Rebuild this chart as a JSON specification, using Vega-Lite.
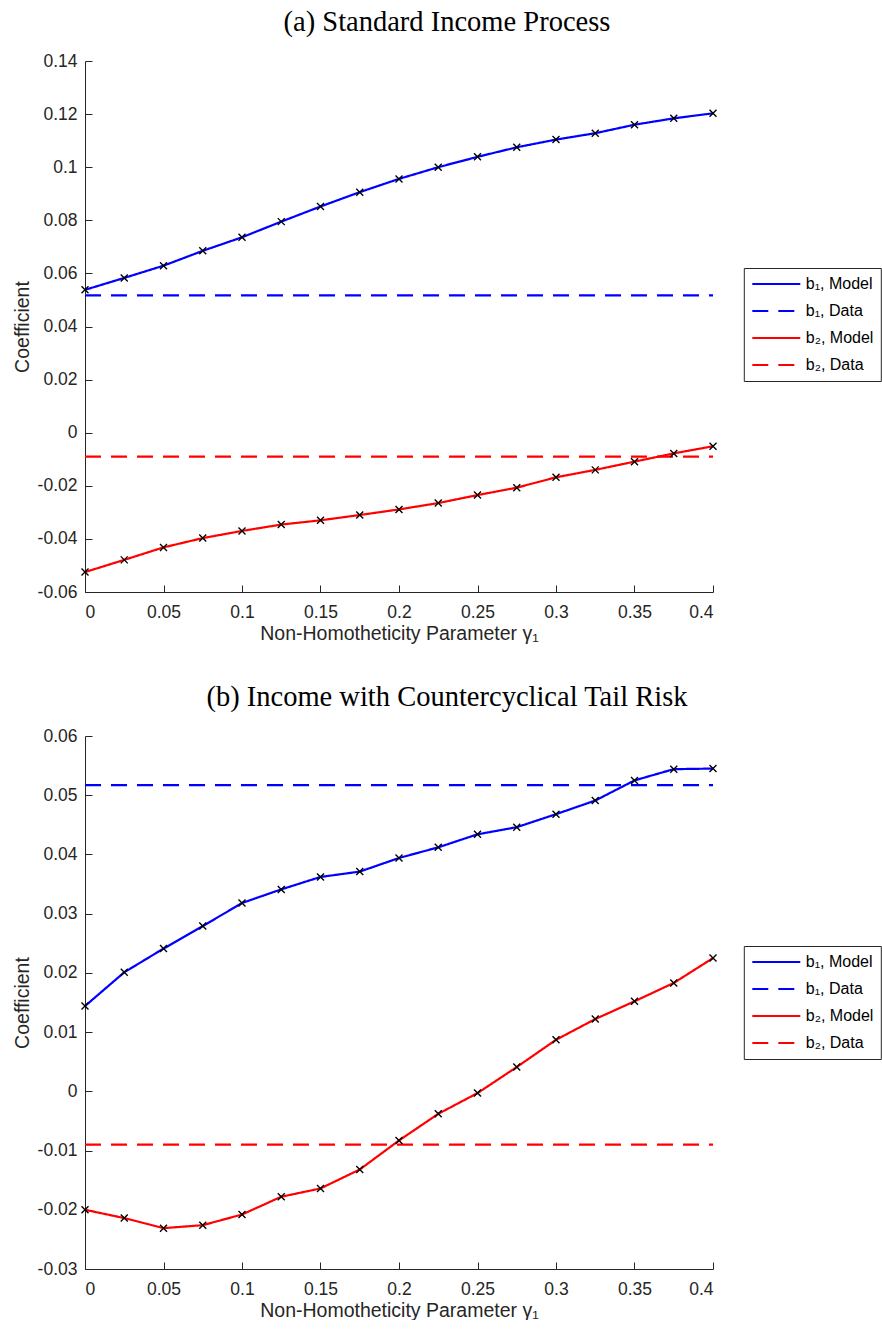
{
  "$schema": "https://vega.github.io/schema/vega-lite/v6.json",
  "padding": {"left": 12, "top": 8, "right": 0, "bottom": 0},
  "background": "white",
  "datasets": {
    "a": [
      {"g": 0, "v": 0.0538, "s": "b₁, Model"},
      {"g": 0.025, "v": 0.0583, "s": "b₁, Model"},
      {"g": 0.05, "v": 0.0629, "s": "b₁, Model"},
      {"g": 0.075, "v": 0.0685, "s": "b₁, Model"},
      {"g": 0.1, "v": 0.0736, "s": "b₁, Model"},
      {"g": 0.125, "v": 0.0795, "s": "b₁, Model"},
      {"g": 0.15, "v": 0.0852, "s": "b₁, Model"},
      {"g": 0.175, "v": 0.0906, "s": "b₁, Model"},
      {"g": 0.2, "v": 0.0956, "s": "b₁, Model"},
      {"g": 0.225, "v": 0.1, "s": "b₁, Model"},
      {"g": 0.25, "v": 0.1039, "s": "b₁, Model"},
      {"g": 0.275, "v": 0.1075, "s": "b₁, Model"},
      {"g": 0.3, "v": 0.1104, "s": "b₁, Model"},
      {"g": 0.325, "v": 0.1128, "s": "b₁, Model"},
      {"g": 0.35, "v": 0.116, "s": "b₁, Model"},
      {"g": 0.375, "v": 0.1184, "s": "b₁, Model"},
      {"g": 0.4, "v": 0.1203, "s": "b₁, Model"},
      {"g": 0, "v": 0.0517, "s": "b₁, Data"},
      {"g": 0.4, "v": 0.0517, "s": "b₁, Data"},
      {"g": 0, "v": -0.0525, "s": "b₂, Model"},
      {"g": 0.025, "v": -0.0479, "s": "b₂, Model"},
      {"g": 0.05, "v": -0.0432, "s": "b₂, Model"},
      {"g": 0.075, "v": -0.0397, "s": "b₂, Model"},
      {"g": 0.1, "v": -0.037, "s": "b₂, Model"},
      {"g": 0.125, "v": -0.0346, "s": "b₂, Model"},
      {"g": 0.15, "v": -0.033, "s": "b₂, Model"},
      {"g": 0.175, "v": -0.031, "s": "b₂, Model"},
      {"g": 0.2, "v": -0.0289, "s": "b₂, Model"},
      {"g": 0.225, "v": -0.0265, "s": "b₂, Model"},
      {"g": 0.25, "v": -0.0235, "s": "b₂, Model"},
      {"g": 0.275, "v": -0.0207, "s": "b₂, Model"},
      {"g": 0.3, "v": -0.0168, "s": "b₂, Model"},
      {"g": 0.325, "v": -0.014, "s": "b₂, Model"},
      {"g": 0.35, "v": -0.0109, "s": "b₂, Model"},
      {"g": 0.375, "v": -0.0078, "s": "b₂, Model"},
      {"g": 0.4, "v": -0.0051, "s": "b₂, Model"},
      {"g": 0, "v": -0.009, "s": "b₂, Data"},
      {"g": 0.4, "v": -0.009, "s": "b₂, Data"}
    ],
    "b": [
      {"g": 0, "v": 0.0144, "s": "b₁, Model"},
      {"g": 0.025, "v": 0.0201, "s": "b₁, Model"},
      {"g": 0.05, "v": 0.0241, "s": "b₁, Model"},
      {"g": 0.075, "v": 0.0279, "s": "b₁, Model"},
      {"g": 0.1, "v": 0.0318, "s": "b₁, Model"},
      {"g": 0.125, "v": 0.0341, "s": "b₁, Model"},
      {"g": 0.15, "v": 0.0362, "s": "b₁, Model"},
      {"g": 0.175, "v": 0.0371, "s": "b₁, Model"},
      {"g": 0.2, "v": 0.0394, "s": "b₁, Model"},
      {"g": 0.225, "v": 0.0412, "s": "b₁, Model"},
      {"g": 0.25, "v": 0.0434, "s": "b₁, Model"},
      {"g": 0.275, "v": 0.0446, "s": "b₁, Model"},
      {"g": 0.3, "v": 0.0468, "s": "b₁, Model"},
      {"g": 0.325, "v": 0.0491, "s": "b₁, Model"},
      {"g": 0.35, "v": 0.0525, "s": "b₁, Model"},
      {"g": 0.375, "v": 0.0544, "s": "b₁, Model"},
      {"g": 0.4, "v": 0.0545, "s": "b₁, Model"},
      {"g": 0, "v": 0.0517, "s": "b₁, Data"},
      {"g": 0.4, "v": 0.0517, "s": "b₁, Data"},
      {"g": 0, "v": -0.02, "s": "b₂, Model"},
      {"g": 0.025, "v": -0.0214, "s": "b₂, Model"},
      {"g": 0.05, "v": -0.0231, "s": "b₂, Model"},
      {"g": 0.075, "v": -0.0226, "s": "b₂, Model"},
      {"g": 0.1, "v": -0.0208, "s": "b₂, Model"},
      {"g": 0.125, "v": -0.0178, "s": "b₂, Model"},
      {"g": 0.15, "v": -0.0164, "s": "b₂, Model"},
      {"g": 0.175, "v": -0.0132, "s": "b₂, Model"},
      {"g": 0.2, "v": -0.0083, "s": "b₂, Model"},
      {"g": 0.225, "v": -0.0038, "s": "b₂, Model"},
      {"g": 0.25, "v": -0.0003, "s": "b₂, Model"},
      {"g": 0.275, "v": 0.0041, "s": "b₂, Model"},
      {"g": 0.3, "v": 0.0087, "s": "b₂, Model"},
      {"g": 0.325, "v": 0.0122, "s": "b₂, Model"},
      {"g": 0.35, "v": 0.0152, "s": "b₂, Model"},
      {"g": 0.375, "v": 0.0183, "s": "b₂, Model"},
      {"g": 0.4, "v": 0.0225, "s": "b₂, Model"},
      {"g": 0, "v": -0.009, "s": "b₂, Data"},
      {"g": 0.4, "v": -0.009, "s": "b₂, Data"}
    ]
  },
  "config": {
    "view": {"stroke": null},
    "font": "Liberation Sans",
    "axis": {
      "grid": false,
      "domainColor": "#262626",
      "tickColor": "#262626",
      "labelColor": "#262626",
      "titleColor": "#262626",
      "labelFont": "Liberation Sans",
      "titleFont": "Liberation Sans",
      "labelFontSize": 17.5,
      "titleFontSize": 19.5,
      "titleFontWeight": "normal",
      "tickSize": -7,
      "domainWidth": 1,
      "tickWidth": 1,
      "labelPadding": 15
    },
    "axisX": {"titlePadding": 4, "labelPadding": 18},
    "axisY": {"titlePadding": 4.5},
    "title": {
      "font": "Liberation Serif",
      "fontSize": 28.5,
      "fontWeight": "normal",
      "color": "black",
      "anchor": "middle",
      "frame": "bounds",
      "offset": 15.5
    },
    "legend": {
      "orient": "none",
      "title": null,
      "symbolType": "stroke",
      "symbolSize": 2304,
      "symbolStrokeWidth": 2.2,
      "labelFont": "Liberation Sans",
      "labelFontSize": 16,
      "labelColor": "black",
      "labelOffset": 4,
      "clipHeight": 18,
      "rowPadding": 9,
      "padding": 7,
      "strokeColor": "#262626",
      "fillColor": "white"
    }
  },
  "spacing": 40,
  "resolve": {
    "scale": {"x": "independent", "y": "independent", "color": "independent", "strokeDash": "independent"},
    "legend": {"color": "independent", "strokeDash": "independent"}
  },
  "vconcat": [
    {
      "title": "(a) Standard Income Process",
      "width": 628,
      "height": 531,
      "data": {"name": "a"},
      "encoding": {
        "x": {
          "field": "g", "type": "quantitative",
          "scale": {"domain": [0, 0.4], "nice": false, "zero": false},
          "axis": {"values": [0, 0.05, 0.1, 0.15, 0.2, 0.25, 0.3, 0.35, 0.4], "labelExpr": "'' + datum.value", "title": "Non-Homotheticity Parameter  γ₁"}
        },
        "y": {
          "field": "v", "type": "quantitative",
          "scale": {"domain": [-0.06, 0.14], "nice": false, "zero": false},
          "axis": {"values": [-0.06, -0.04, -0.02, 0, 0.02, 0.04, 0.06, 0.08, 0.1, 0.12, 0.14], "labelExpr": "'' + datum.value", "title": "Coefficient"}
        }
      },
      "layer": [
        {
          "mark": {"type": "line", "strokeWidth": 2.2},
          "encoding": {
            "color": {"field": "s", "type": "nominal",
              "scale": {"domain": ["b₁, Model", "b₁, Data", "b₂, Model", "b₂, Data"], "range": ["#0000ff", "#0000ff", "#ff0000", "#ff0000"]},
              "legend": {"legendX": 658.8, "legendY": 207}},
            "strokeDash": {"field": "s", "type": "nominal",
              "scale": {"domain": ["b₁, Model", "b₁, Data", "b₂, Model", "b₂, Data"], "range": [[1, 0], [16, 10], [1, 0], [16, 10]]},
              "legend": {"legendX": 658.8, "legendY": 207}}
          }
        },
        {
          "transform": [{"filter": "indexof(datum.s, 'Model') >= 0"}],
          "mark": {"type": "point", "shape": "M-1,-1L1,1M-1,1L1,-1", "filled": false, "color": "black", "opacity": 1, "size": 49, "strokeWidth": 1.4}
        }
      ]
    },
    {
      "title": "(b) Income with Countercyclical Tail Risk",
      "width": 628,
      "height": 533,
      "data": {"name": "b"},
      "encoding": {
        "x": {
          "field": "g", "type": "quantitative",
          "scale": {"domain": [0, 0.4], "nice": false, "zero": false},
          "axis": {"values": [0, 0.05, 0.1, 0.15, 0.2, 0.25, 0.3, 0.35, 0.4], "labelExpr": "'' + datum.value", "title": "Non-Homotheticity Parameter  γ₁"}
        },
        "y": {
          "field": "v", "type": "quantitative",
          "scale": {"domain": [-0.03, 0.06], "nice": false, "zero": false},
          "axis": {"values": [-0.03, -0.02, -0.01, 0, 0.01, 0.02, 0.03, 0.04, 0.05, 0.06], "labelExpr": "'' + datum.value", "title": "Coefficient"}
        }
      },
      "layer": [
        {
          "mark": {"type": "line", "strokeWidth": 2.2},
          "encoding": {
            "color": {"field": "s", "type": "nominal",
              "scale": {"domain": ["b₁, Model", "b₁, Data", "b₂, Model", "b₂, Data"], "range": ["#0000ff", "#0000ff", "#ff0000", "#ff0000"]},
              "legend": {"legendX": 658.8, "legendY": 210}},
            "strokeDash": {"field": "s", "type": "nominal",
              "scale": {"domain": ["b₁, Model", "b₁, Data", "b₂, Model", "b₂, Data"], "range": [[1, 0], [16, 10], [1, 0], [16, 10]]},
              "legend": {"legendX": 658.8, "legendY": 210}}
          }
        },
        {
          "transform": [{"filter": "indexof(datum.s, 'Model') >= 0"}],
          "mark": {"type": "point", "shape": "M-1,-1L1,1M-1,1L1,-1", "filled": false, "color": "black", "opacity": 1, "size": 49, "strokeWidth": 1.4}
        }
      ]
    }
  ]
}
